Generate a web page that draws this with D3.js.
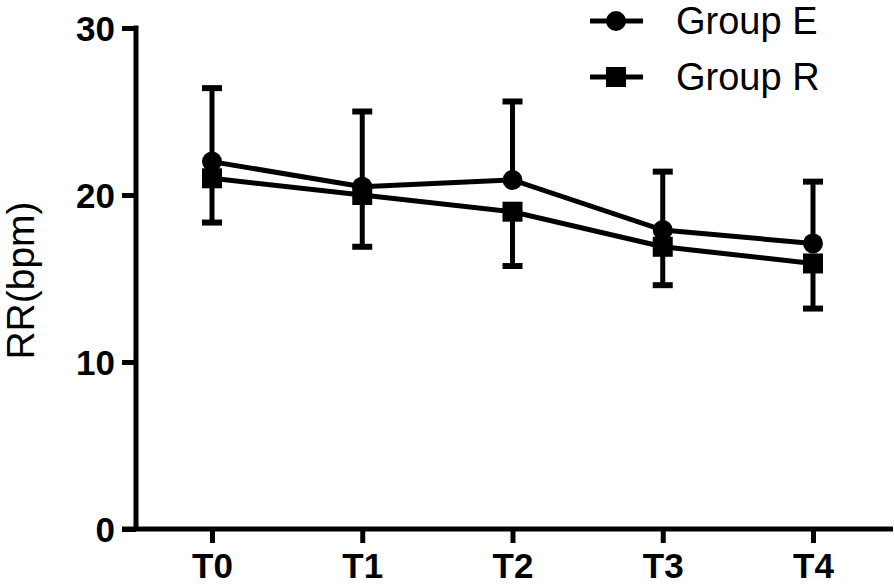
<!DOCTYPE html>
<html>
<head>
<meta charset="utf-8">
<script src="https://cdn.jsdelivr.net/npm/d3@7"></script>
<style>
  html, body { margin: 0; padding: 0; background: #fff; }
  svg { display: block; font-family: "Liberation Sans", Arial, sans-serif; }
</style>
</head>
<body>
<svg id="chart" width="894" height="586"></svg>
<script>
const categories = ["T0", "T1", "T2", "T3", "T4"];
const groupEMean = [22.0, 20.5, 20.9, 17.9, 17.1];
const groupESD   = [4.4, 4.5, 4.7, 3.5, 3.7];
const groupRMean = [21.0, 20.0, 19.0, 16.9, 15.9];
const groupRSD   = [2.65, 3.1, 3.25, 2.3, 2.7];
const yTicks = [0, 10, 20, 30];
const seriesNames = ["Group E", "Group R"];
const yTitle = "RR(bpm)";

const svg = d3.select("#chart");
const W = 894;
const axisX = 136, axisY = 529, topY = 28;
const tickLen = 14;
const lw = 5;

const x = d3.scalePoint().domain(categories).range([212, 813]);
const y = d3.scaleLinear().domain([0, 30]).range([axisY, topY]);

// Y axis
const yAxis = svg.append("g").attr("transform", `translate(${axisX},0)`)
  .call(d3.axisLeft(y).tickValues(yTicks).tickSize(tickLen).tickSizeOuter(0).tickPadding(7));
yAxis.select(".domain").remove();
yAxis.selectAll(".tick line").attr("stroke", "#000").attr("stroke-width", lw);
yAxis.selectAll(".tick text").attr("fill", "#000").attr("font-size", 35).attr("font-weight", "bold")
  .attr("font-family", "Liberation Sans, Arial, sans-serif").attr("dy", "0.36em");
svg.append("line").attr("x1", axisX).attr("x2", axisX)
  .attr("y1", y(30) - lw / 2).attr("y2", axisY)
  .attr("stroke", "#000").attr("stroke-width", lw);

// X axis
const xAxis = svg.append("g").attr("transform", `translate(0,${axisY})`)
  .call(d3.axisBottom(x).tickSize(tickLen).tickSizeOuter(0).tickPadding(10));
xAxis.select(".domain").remove();
xAxis.selectAll(".tick line").attr("stroke", "#000").attr("stroke-width", lw);
xAxis.selectAll(".tick text").attr("fill", "#000").attr("font-size", 35).attr("font-weight", "bold")
  .attr("font-family", "Liberation Sans, Arial, sans-serif").attr("dy", "0.71em");
svg.append("line").attr("x1", axisX - tickLen).attr("x2", W - 1)
  .attr("y1", axisY).attr("y2", axisY)
  .attr("stroke", "#000").attr("stroke-width", lw);

// Y title
svg.append("text")
  .attr("transform", `translate(34,${(y(0) + y(30)) / 2 + 2}) rotate(-90)`)
  .attr("text-anchor", "middle")
  .attr("font-size", 39)
  .attr("fill", "#000")
  .text(yTitle);

const series = [
  { name: seriesNames[0], mean: groupEMean, sd: groupESD, dir: 1, shape: "circle" },
  { name: seriesNames[1], mean: groupRMean, sd: groupRSD, dir: -1, shape: "square" }
];

const line = d3.line().x((d, i) => x(categories[i])).y(d => y(d));

series.forEach(s => {
  svg.append("path").datum(s.mean).attr("d", line)
    .attr("fill", "none").attr("stroke", "#000").attr("stroke-width", lw);
});

series.forEach(s => {
  const g = svg.append("g");
  s.mean.forEach((m, i) => {
    const cx = x(categories[i]);
    const end = m + s.dir * s.sd[i];
    g.append("line").attr("x1", cx).attr("x2", cx).attr("y1", y(m)).attr("y2", y(end))
      .attr("stroke", "#000").attr("stroke-width", lw);
    g.append("line").attr("x1", cx - 10).attr("x2", cx + 10).attr("y1", y(end)).attr("y2", y(end))
      .attr("stroke", "#000").attr("stroke-width", 6);
  });
});

function drawMarker(g, shape, cx, cy) {
  if (shape === "circle") {
    g.append("circle").attr("cx", cx).attr("cy", cy).attr("r", 10).attr("fill", "#000");
  } else {
    g.append("rect").attr("x", cx - 10).attr("y", cy - 10).attr("width", 20).attr("height", 20).attr("fill", "#000");
  }
}

series.forEach(s => {
  const g = svg.append("g");
  s.mean.forEach((m, i) => drawMarker(g, s.shape, x(categories[i]), y(m)));
});

// Legend
const legendY = [21, 77];
series.forEach((s, i) => {
  const g = svg.append("g");
  g.append("line").attr("x1", 590).attr("x2", 643).attr("y1", legendY[i]).attr("y2", legendY[i])
    .attr("stroke", "#000").attr("stroke-width", lw);
  drawMarker(g, s.shape, 616, legendY[i]);
  g.append("text").attr("x", 676).attr("y", legendY[i] + 13)
    .attr("font-size", 38).attr("fill", "#000").text(s.name);
});
</script>
</body>
</html>
